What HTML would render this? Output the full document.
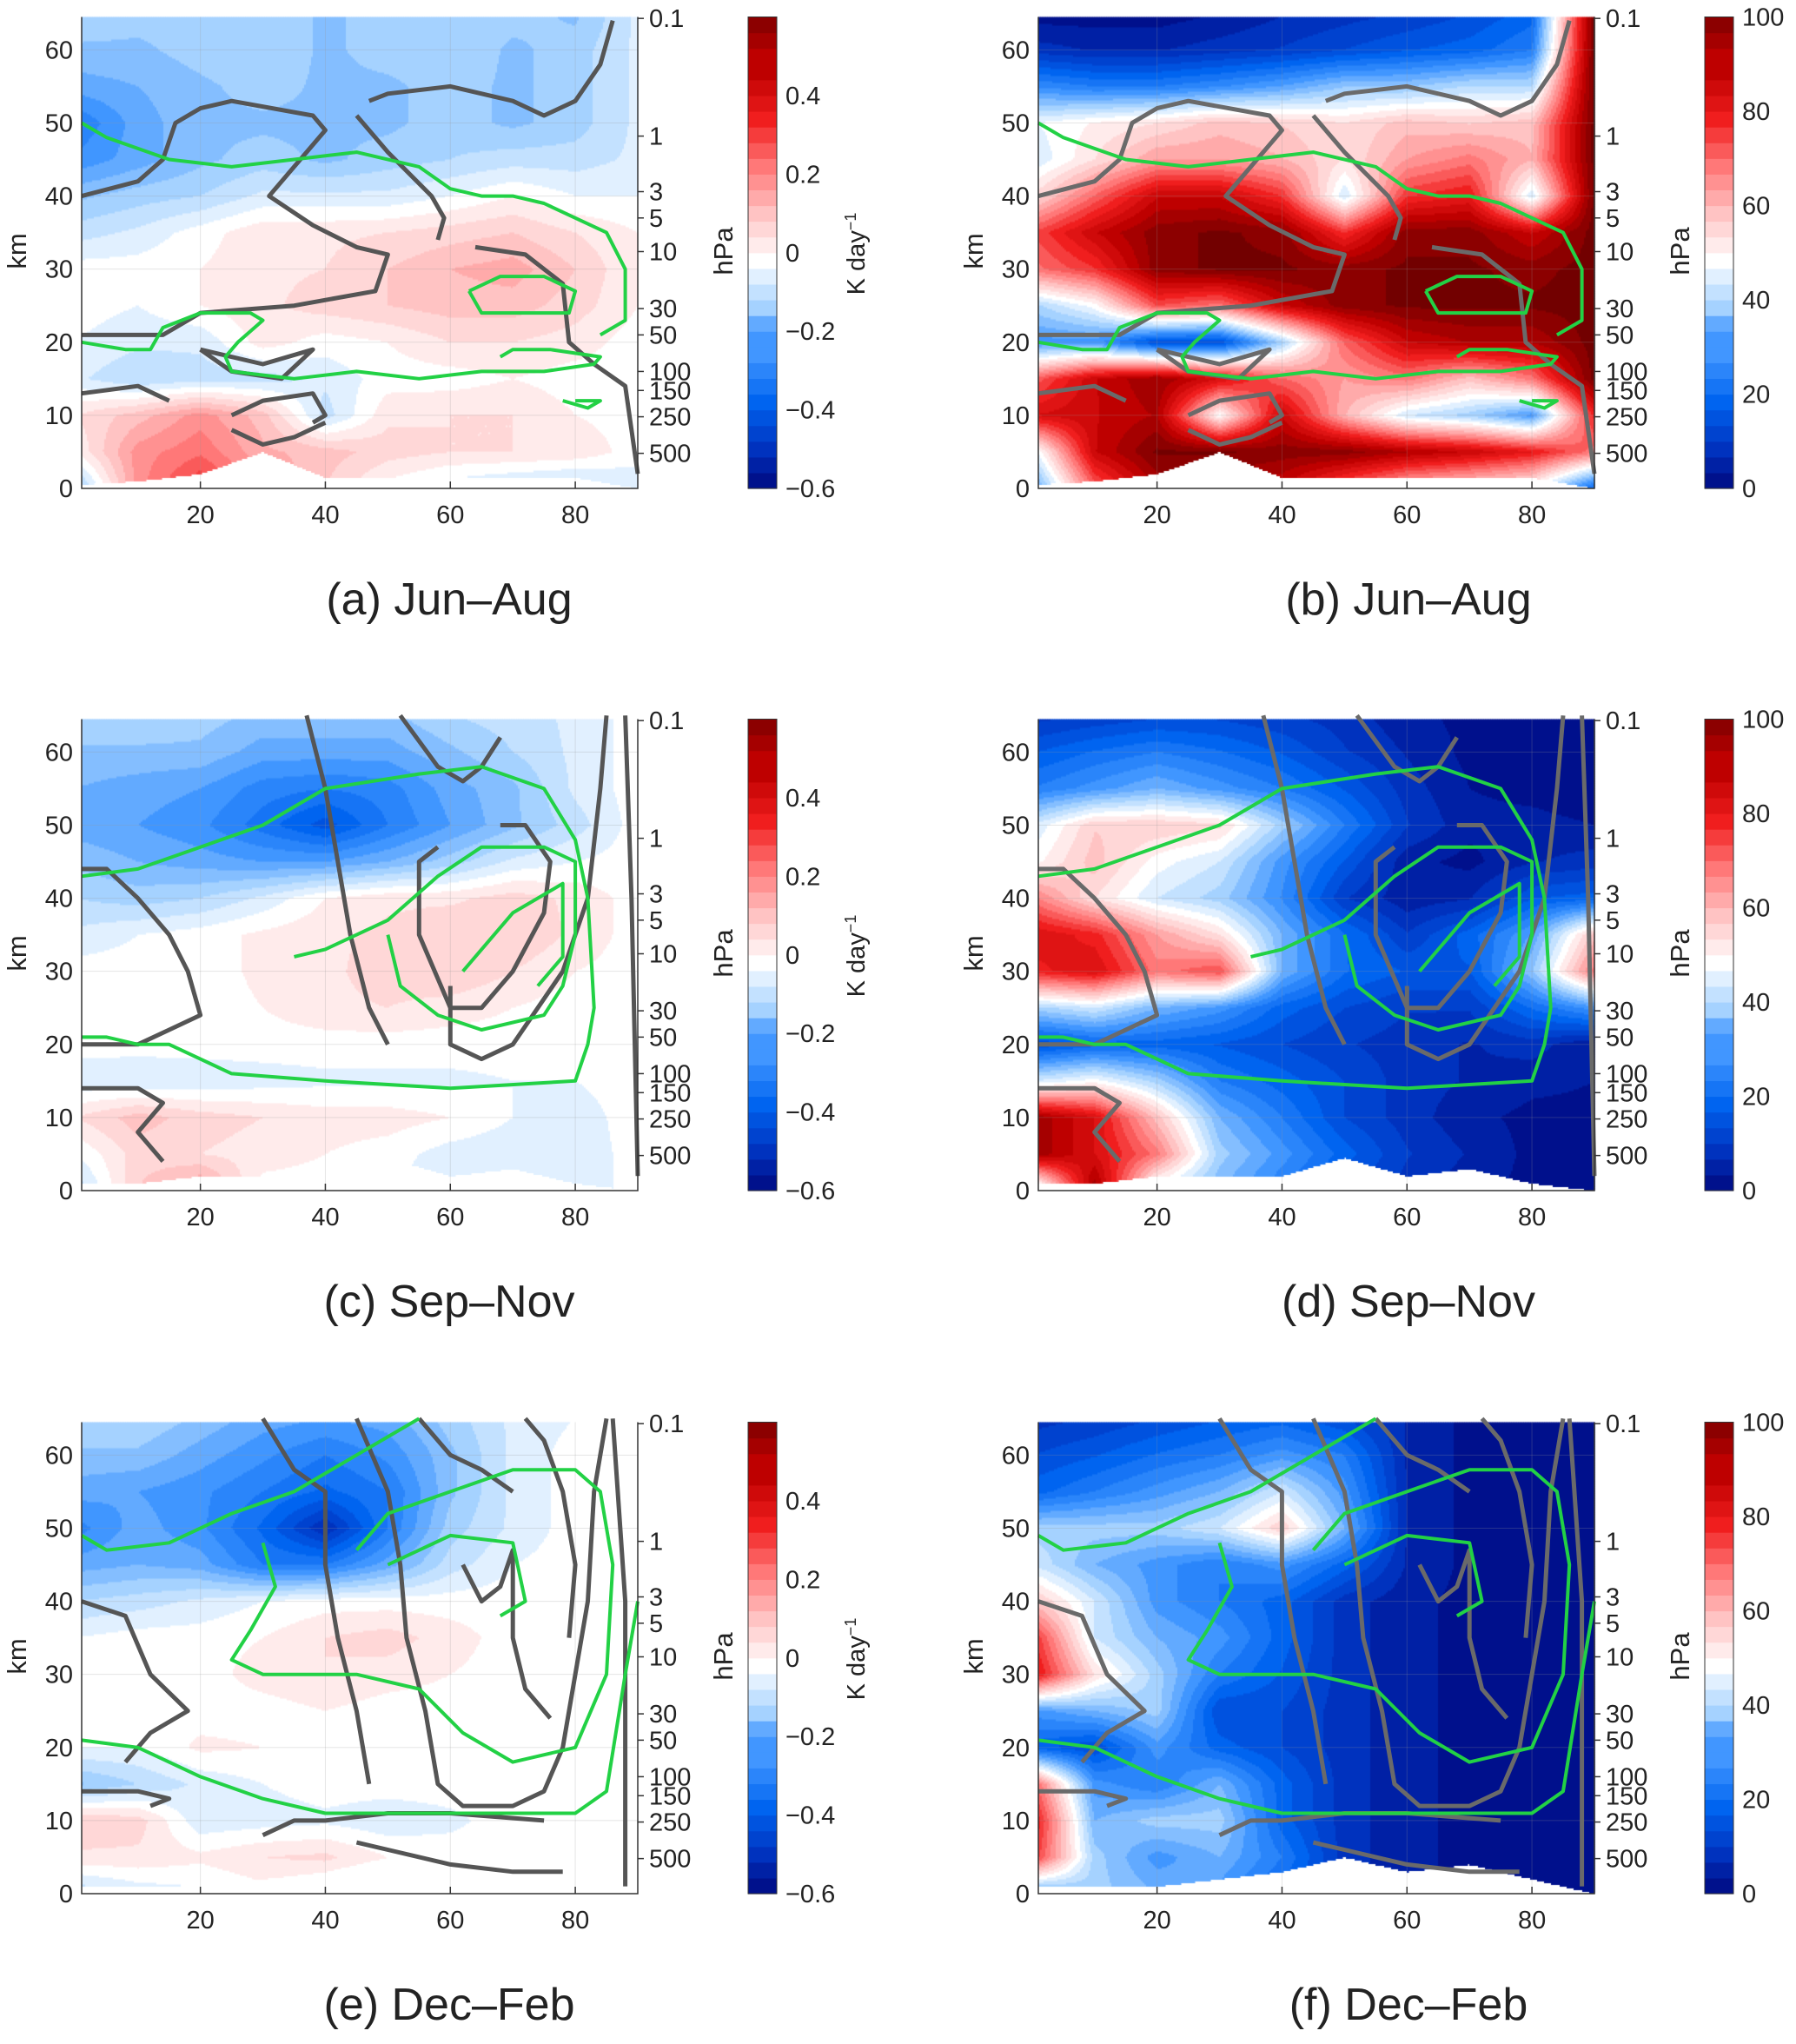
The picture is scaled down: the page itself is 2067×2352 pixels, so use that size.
<!DOCTYPE html>
<html><head><meta charset="utf-8">
<style>
html,body{margin:0;padding:0;background:#fff;}
#wrap{position:relative;width:2067px;height:2352px;overflow:hidden;}
canvas,svg{position:absolute;left:0;top:0;}
text{font-family:"Liberation Sans",sans-serif;fill:#222;}
</style></head>
<body>
<div id="wrap">
<canvas id="cv" width="2067" height="2352"></canvas>
<svg id="sv" width="2067" height="2352" xmlns="http://www.w3.org/2000/svg"></svg>
</div>
<script>
// ---- data grids: rows = km 65,60,...,0 ; cols = lat 0,10,...,90 ----
const latNodes=[0,10,20,30,40,50,60,70,80,90];
const kmNodes=[65,60,55,50,45,40,35,30,25,20,15,10,5,0];
const fieldA=[
[-0.1,-0.12,-0.12,-0.1,-0.15,-0.12,-0.1,-0.12,-0.15,-0.05],
[-0.15,-0.15,-0.12,-0.1,-0.15,-0.12,-0.1,-0.15,-0.12,-0.05],
[-0.2,-0.18,-0.15,-0.12,-0.15,-0.15,-0.12,-0.15,-0.12,-0.05],
[-0.3,-0.2,-0.15,-0.15,-0.15,-0.15,-0.12,-0.15,-0.12,-0.05],
[-0.25,-0.2,-0.15,-0.12,-0.15,-0.12,-0.1,-0.08,-0.08,-0.05],
[-0.15,-0.12,-0.1,-0.05,-0.05,-0.05,-0.02,0.02,-0.02,-0.02],
[-0.08,-0.05,0,0.05,0.05,0.06,0.08,0.1,0.06,0.02],
[0,0,0.02,0.05,0.06,0.1,0.14,0.16,0.1,0.02],
[0,-0.02,0.02,0.05,0.08,0.1,0.12,0.12,0.08,0.02],
[-0.02,-0.05,-0.05,0.04,0,0.02,0.06,0.06,0.04,0],
[-0.05,-0.1,-0.08,-0.08,-0.05,0,0,0.02,0,0],
[0.06,0.12,0.2,0.12,-0.08,0.05,0.06,0.06,0.02,0],
[0.02,0.2,0.25,0.15,0.12,0.08,0.06,0.06,0.05,0],
[-0.15,0.2,0.35,0.2,0.1,0,-0.05,-0.08,-0.1,-0.05]];
const fieldB=[
[3,3,3,5,8,10,12,15,20,100],
[10,8,8,10,12,15,18,20,25,100],
[28,25,25,28,32,38,38,42,42,100],
[48,52,55,60,58,55,60,58,60,100],
[45,55,65,65,62,55,65,70,62,100],
[55,72,88,88,78,45,78,82,45,100],
[75,88,97,99,97,78,97,97,88,100],
[70,78,97,99,99,97,99,99,97,100],
[40,50,75,70,88,97,99,99,99,100],
[30,30,15,15,40,72,88,92,92,100],
[72,88,95,85,72,65,70,60,70,100],
[85,88,92,50,88,62,45,40,30,80],
[45,88,99,99,97,97,92,88,82,70],
[30,72,92,92,88,72,60,55,50,20]];
const fieldC=[
[-0.1,-0.1,-0.12,-0.15,-0.15,-0.15,-0.1,-0.08,-0.05,0],
[-0.15,-0.15,-0.15,-0.2,-0.2,-0.2,-0.15,-0.1,-0.05,0],
[-0.18,-0.2,-0.22,-0.28,-0.3,-0.28,-0.2,-0.15,-0.05,0],
[-0.2,-0.22,-0.25,-0.32,-0.4,-0.3,-0.22,-0.15,-0.08,0],
[-0.15,-0.18,-0.2,-0.22,-0.22,-0.18,-0.12,-0.05,-0.02,0],
[-0.1,-0.12,-0.1,-0.05,0.02,0.05,0.05,0.08,0.05,0],
[-0.05,-0.02,0,0.03,0.05,0.07,0.1,0.1,0.05,0],
[0,0,0,0.03,0.05,0.08,0.1,0.06,0.02,0],
[0,0,0,0.02,0.05,0.06,0.04,0.02,0,0],
[0,0,0,0,0,0,0,0,0,0],
[-0.05,-0.06,-0.05,-0.04,-0.03,-0.03,-0.03,-0.02,-0.02,0],
[0.06,0.12,0.08,0.06,0.04,0.04,0.02,-0.02,-0.04,0],
[-0.02,0.08,0.06,0.04,0.02,0,-0.04,-0.05,-0.05,0],
[-0.1,0.1,0.2,0,0,-0.02,-0.05,-0.05,-0.05,0]];
const fieldD=[
[10,12,14,14,12,10,6,4,3,3],
[18,22,25,22,18,12,8,4,3,3],
[25,30,35,30,25,18,10,5,4,3],
[45,58,58,56,40,25,12,6,6,5],
[50,60,50,45,30,18,6,4,8,10],
[70,55,45,40,28,12,6,8,18,20],
[85,80,65,55,35,22,12,20,32,60],
[80,85,70,75,35,22,18,18,38,70],
[40,45,35,30,20,15,12,12,22,30],
[15,20,20,18,15,12,10,8,10,5],
[45,50,40,25,20,15,10,8,6,5],
[95,85,60,35,25,15,10,6,4,4],
[95,85,70,40,30,20,12,8,4,4],
[35,95,45,35,25,15,10,6,4,3]];
const fieldE=[
[-0.1,-0.1,-0.15,-0.2,-0.22,-0.2,-0.12,-0.05,-0.02,0],
[-0.15,-0.15,-0.2,-0.25,-0.3,-0.25,-0.15,-0.05,0,0],
[-0.2,-0.22,-0.25,-0.3,-0.35,-0.3,-0.15,-0.05,0,0],
[-0.28,-0.2,-0.25,-0.35,-0.5,-0.3,-0.12,-0.05,0,0],
[-0.2,-0.18,-0.2,-0.3,-0.3,-0.2,-0.08,-0.02,0,0],
[-0.1,-0.08,-0.05,-0.02,0,0,0,0,0,0],
[-0.02,0,0,0.02,0.06,0.08,0.04,0,0,0],
[0,0,0,0.04,0.06,0.04,0.02,0,0,0],
[0,0,0,0,0.02,0,0,0,0,0],
[-0.02,-0.02,0.03,0.02,0,0.02,0,0,0,0],
[-0.15,-0.1,-0.05,-0.02,0,0,0,0,0,0],
[0.1,0.08,-0.05,-0.04,-0.03,-0.05,-0.03,0,0,0],
[0.05,0.05,0.03,0.06,0.07,0.02,0,0,0,0],
[-0.1,-0.05,-0.03,0,-0.02,0,0,0,0,0]];
const fieldF=[
[10,12,15,18,20,15,8,4,3,3],
[15,18,22,25,30,25,8,4,3,3],
[20,25,30,35,45,30,8,4,3,3],
[40,40,40,45,58,35,8,4,3,3],
[45,35,30,25,30,20,8,4,3,3],
[60,45,30,25,20,10,6,4,3,3],
[80,45,35,30,20,10,6,4,3,3],
[85,55,40,25,18,10,6,4,3,3],
[30,35,40,15,15,10,6,4,3,3],
[20,15,30,20,15,10,6,4,3,3],
[75,30,25,35,20,10,6,4,3,3],
[85,35,40,40,20,10,6,4,3,3],
[80,40,30,35,25,10,6,4,3,3],
[30,40,35,30,20,10,6,4,3,3]];
// surface (white mask) height in km at each lat node, per row
const surfRow1=[0.5,1,2,5,1.5,1.5,1.5,1.5,1.5,0];
const surfRow2=[1,1,2,2,2,4.5,2,3,1,0];
const surfRow3=[1,1,1,2,3,5,3,4,2,0];
// contours per row [lat,km]
const greyRow1=[
[[1,40],[10,42],[14,45],[16,50],[20,52],[25,53],[38,51],[40,49],[35,44],[31,40],[38,36],[45,33],[50,32],[48,27],[35,25],[20,24],[14,21],[1,21]],
[[45,51],[50,46],[57,40],[59,37],[58,34]],
[[47,53],[50,54],[60,55],[70,53],[75,51],[80,53],[84,58],[86,64]],
[[64,33],[72,32],[78,28],[79,20],[83,17],[88,14],[89,8],[90,2]],
[[1,13],[10,14],[15,12]],[[25,10],[30,12],[38,13],[40,10],[38,9]],[[25,8],[30,6],[35,7],[40,9]],
[[20,19],[30,17],[38,19],[33,15],[25,16],[20,19]]];
const greenRow1=[
[[1,50],[5,48],[15,45],[25,44],[35,45],[45,46],[55,44],[60,41],[65,40],[70,40],[75,39],[85,35],[88,30],[88,23],[84,21]],
[[63,27],[68,29],[75,29],[80,27],[79,24],[70,24],[65,24],[63,27]],
[[1,20],[8,19],[12,19],[14,22],[20,24],[28,24],[30,23],[26,20],[24,18],[25,16],[35,15],[45,16],[55,15],[65,16],[75,16],[83,17],[84,18],[76,19],[70,19],[68,18]],
[[78,12],[82,11],[84,12],[80,12]]];
const greyRow2=[
[[1,20],[10,20],[15,22],[20,24],[18,30],[15,35],[10,40],[5,44],[1,44]],
[[37,65],[40,55],[42,45],[44,35],[47,25],[50,20]],
[[58,47],[55,45],[55,35],[60,25],[65,25],[70,30],[75,38],[76,45],[72,50],[68,50]],
[[60,28],[60,20],[65,18],[70,20],[78,30],[82,40],[84,55],[85,65]],
[[52,65],[58,58],[62,56],[65,58],[68,62]],
[[88,65],[89,40],[90,2]],
[[1,14],[10,14],[14,12],[10,8],[14,4]]];
const greenRow2=[
[[1,43],[10,44],[20,47],[30,50],[40,55],[55,57],[65,58],[75,55],[80,48],[82,40],[83,25],[82,20],[80,15],[60,14],[40,15],[25,16],[20,18],[15,20],[10,20],[5,21],[1,21]],
[[35,32],[40,33],[50,37],[58,43],[65,47],[75,47],[80,45],[80,35],[78,28],[75,24],[65,22],[58,24],[52,28],[50,35]],
[[62,30],[70,38],[78,42],[78,32],[74,28]]];
const greyRow3=[
[[30,65],[35,58],[40,55],[40,45],[42,35],[45,25],[47,15]],
[[45,65],[50,55],[52,45],[53,35],[56,25],[58,15],[62,12],[70,12],[75,14],[78,20],[80,30],[82,40],[83,55],[85,65]],
[[55,65],[60,60],[65,58],[70,55]],
[[62,45],[65,40],[68,42],[70,47],[70,35],[72,28],[76,24]],
[[72,65],[75,62],[78,55],[80,45],[79,35]],
[[1,14],[10,14],[15,13],[12,12]],
[[30,8],[35,10],[40,10],[50,11],[60,11],[75,10]],
[[45,7],[50,6],[60,4],[70,3],[78,3]],
[[86,65],[88,40],[88,1]],
[[1,40],[8,38],[12,30],[18,25],[12,22],[8,18]]];
const greenRow3=[
[[1,49],[5,47],[15,48],[25,52],[35,55],[45,60],[55,65]],
[[30,48],[32,42],[28,36],[25,32],[30,30],[45,30],[55,28],[62,22],[70,18],[80,20],[85,30],[86,45],[84,55],[80,58],[70,58],[60,55],[50,52],[45,47]],
[[1,21],[10,20],[20,16],[30,13],[40,11],[60,11],[80,11],[85,14],[88,30],[90,40]],
[[50,45],[60,49],[70,48],[72,40],[68,38]]];
const hpaLabels=["0.1","1","3","5","10","30","50","100","150","250","500"];
const hpaKm=[64.3,48.2,40.6,37,32.4,24.6,21,16,13.4,9.8,4.8];
const kmTicks=[0,10,20,30,40,50,60];
const latTicks=[20,40,60,80];
const cbTicksA=[-0.6,-0.4,-0.2,0,0.2,0.4];
const cbTicksB=[0,20,40,60,80,100];
const titles=["(a)  Jun–Aug","(b)  Jun–Aug","(c)  Sep–Nov","(d)  Sep–Nov","(e)  Dec–Feb","(f)  Dec–Feb"];

// ---- layout ----
const rowOff=[0,808,1617];
const colOff=[0,1101];
const PX0=94,PX1=734,PY0=19.5,PY1=562,LAT0=1,LAT1=90,KM0=0,KM1=64.5;
function xS(lat,c){return colOff[c]+PX0+(lat-LAT0)/(LAT1-LAT0)*(PX1-PX0);}
function yS(km,r){return rowOff[r]+PY1-(km-KM0)/(KM1-KM0)*(PY1-PY0);}

const stops=[[-1,[0,0,115]],[-0.8,[0,50,190]],[-0.6,[0,100,240]],[-0.4,[65,150,255]],[-0.2,[165,210,255]],[0,[255,255,255]],[0.2,[255,195,195]],[0.4,[255,120,120]],[0.6,[240,30,30]],[0.8,[190,0,0]],[1,[115,0,0]]];
function cmap(t){t=Math.max(-1,Math.min(1,t));for(let i=0;i<stops.length-1;i++){const a=stops[i],b=stops[i+1];if(t<=b[0]){const f=(t-a[0])/(b[0]-a[0]);return a[1].map((v,k)=>Math.round(v+(b[1][k]-v)*f));}}return stops[stops.length-1][1];}
function quant(t){const step=2/30;const q=Math.round(t/step)*step;return q;}
function interp(g,lat,km){
  let ci=Math.min(8,Math.max(0,Math.floor(lat/10)));let fx=(lat-latNodes[ci])/10;
  let ri=Math.min(12,Math.max(0,Math.floor((65-km)/5)));let fy=(kmNodes[ri]-km)/5;
  fx=Math.max(0,Math.min(1,fx));fy=Math.max(0,Math.min(1,fy));
  const a=g[ri][ci],b=g[ri][ci+1],c=g[ri+1][ci],d=g[ri+1][ci+1];
  return a*(1-fx)*(1-fy)+b*fx*(1-fy)+c*(1-fx)*fy+d*fx*fy;}
function surfAt(s,lat){let ci=Math.min(8,Math.floor(lat/10));const f=(lat-latNodes[ci])/10;return s[ci]*(1-f)+s[ci+1]*f;}

const ctx=document.getElementById('cv').getContext('2d');
const panels=[[fieldA,0,0,'k',surfRow1],[fieldB,0,1,'p',surfRow1],[fieldC,1,0,'k',surfRow2],[fieldD,1,1,'p',surfRow2],[fieldE,2,0,'k',surfRow3],[fieldF,2,1,'p',surfRow3]];
const step=2;
panels.forEach(([g,r,c,kind,surf])=>{
  const x0=xS(LAT0,c),x1=xS(LAT1,c),y0=yS(KM1,r),y1=yS(0,r);
  for(let x=x0;x<x1;x+=step){
    const lat=LAT0+(x+step/2-x0)/(x1-x0)*(LAT1-LAT0);
    const sk=surfAt(surf,lat);
    for(let y=y0;y<y1;y+=step){
      const km=KM1-(y+step/2-y0)/(y1-y0)*KM1;
      if(km<sk)continue;
      let v=interp(g,lat,km);
      let t=kind==='k'?v/0.6:(v-50)/50;
      const col=cmap(quant(t));
      ctx.fillStyle='rgb('+col[0]+','+col[1]+','+col[2]+')';
      ctx.fillRect(x,y,step+0.5,step+0.5);
    }
  }
});

// ---- SVG ----
const NS='http://www.w3.org/2000/svg';
const sv=document.getElementById('sv');
function mk(tag,attrs,parent,txt){const e=document.createElementNS(NS,tag);for(const k in attrs)e.setAttribute(k,attrs[k]);if(txt!==undefined)e.textContent=txt;(parent||sv).appendChild(e);return e;}
const cbX=[861,1962],cbW=33;
const FS=29;
panels.forEach(([g,r,c,kind],pi)=>{
  const grp=mk('g',{},sv);
  
  
  const x0=xS(LAT0,c),x1=xS(LAT1,c),y0=yS(KM1,r),y1=yS(0,r);
  latTicks.forEach(t=>{const l=mk('line',{x1:xS(t,c),x2:xS(t,c),y1:y0,y2:y1,stroke:'#999','stroke-opacity':0.25,'stroke-width':1},grp);});
  kmTicks.forEach(t=>{const l=mk('line',{x1:x0,x2:x1,y1:yS(t,r),y2:yS(t,r),stroke:'#999','stroke-opacity':0.25,'stroke-width':1},grp);});
  const greys=[greyRow1,greyRow2,greyRow3][r],greens=[greenRow1,greenRow2,greenRow3][r];
  const gcol=c===0?'#555':'#6a6a6a';
  greys.forEach(line=>{const d=line.map((p,i)=>(i?'L':'M')+xS(p[0],c).toFixed(1)+' '+yS(p[1],r).toFixed(1)).join('');const e=mk('path',{d:d,fill:'none',stroke:gcol,'stroke-width':5,'stroke-linejoin':'round'},grp);});
  greens.forEach(line=>{const d=line.map((p,i)=>(i?'L':'M')+xS(p[0],c).toFixed(1)+' '+yS(p[1],r).toFixed(1)).join('');const e=mk('path',{d:d,fill:'none',stroke:'#22d145','stroke-width':4,'stroke-linejoin':'round'},grp);});
  const ax=mk('path',{d:`M${x0} ${y0}L${x0} ${y1}L${x1} ${y1}L${x1} ${y0}`,fill:'none',stroke:'#333','stroke-width':1.5},grp);
  kmTicks.forEach(t=>{const e=mk('text',{x:x0-10,y:yS(t,r)+10,'text-anchor':'end','font-size':FS},grp,String(t));});
  latTicks.forEach(t=>{const e=mk('text',{x:xS(t,c),y:y1+40,'text-anchor':'middle','font-size':FS},grp,String(t));
    mk('line',{x1:xS(t,c),x2:xS(t,c),y1:y1,y2:y1-8,stroke:'#333','stroke-width':1.5},grp);});
  hpaLabels.forEach((h,i)=>{const e=mk('text',{x:x1+13,y:yS(hpaKm[i],r)+10,'font-size':FS},grp,h);
    mk('line',{x1:x1,x2:x1+7,y1:yS(hpaKm[i],r),y2:yS(hpaKm[i],r),stroke:'#333','stroke-width':1.5},grp);});
  const kl=mk('text',{x:0,y:0,'font-size':31,'text-anchor':'middle',transform:`translate(${colOff[c]+30},${rowOff[r]+289}) rotate(-90)`},grp,'km');
  const hl=mk('text',{x:0,y:0,'font-size':31,'text-anchor':'middle',transform:`translate(${colOff[c]+843},${rowOff[r]+289}) rotate(-90)`},grp,'hPa');
  const cx=cbX[c];const n=30;
  for(let i=0;i<n;i++){const t=-1+(i+0.5)*2/n;const col=cmap(quant(t));const yy=y1-(i+1)*(y1-y0)/n;
    const e=mk('rect',{x:cx,y:yy,width:cbW,height:(y1-y0)/n+0.6,fill:`rgb(${col})`},grp);}
  mk('rect',{x:cx,y:y0,width:cbW,height:y1-y0,fill:'none',stroke:'#333','stroke-width':1},grp);
  if(kind==='k'){
    cbTicksA.forEach(t=>{const yy=y1-(t+0.6)/1.2*(y1-y0);const e=mk('text',{x:cx+cbW+10,y:yy+10,'font-size':FS},grp,(t<0?'−':'')+Math.abs(t).toString());});
    const ul=mk('text',{x:0,y:0,'font-size':29,'text-anchor':'middle',transform:`translate(${cx+134},${rowOff[r]+292}) rotate(-90)`},grp);
    
    ul.appendChild(document.createTextNode('K day'));mk('tspan',{dy:-10,'font-size':18},ul,'−1');
  } else {
    cbTicksB.forEach(t=>{const yy=y1-t/100*(y1-y0);const e=mk('text',{x:cx+cbW+10,y:yy+10,'font-size':FS},grp,String(t));});
  }
  const tt=mk('text',{x:colOff[c]+(c===0?517:520),y:rowOff[r]+707,'text-anchor':'middle','font-size':52},grp,titles[pi]);
  
});
</script>
</body></html>
